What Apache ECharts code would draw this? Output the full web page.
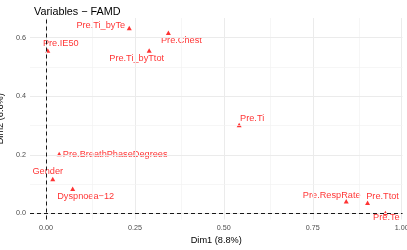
<!DOCTYPE html>
<html>
<head>
<meta charset="utf-8">
<script src="https://cdn.jsdelivr.net/npm/echarts@6/dist/echarts.min.js"></script>
<style>html,body{margin:0;padding:0;background:#fff}#c{width:407px;height:250px}</style>
</head>
<body>
<div id="c"></div>
<script>
// ---- data ----
const varNames = ["Pre.IE50","Pre.Ti_byTe","Pre.Chest","Pre.Ti_byTtot","Pre.Ti","Pre.BreathPhaseDegrees","Gender","Dyspnoea\u221212","Pre.RespRate","Pre.Ttot","Pre.Te"];
const dim1 = [0.005, 0.234, 0.344, 0.290, 0.543, 0.037, 0.019, 0.075, 0.844, 0.904, 0.954];
const dim2 = [0.556, 0.633, 0.617, 0.556, 0.302, 0.203, 0.118, 0.084, 0.042, 0.037, 0.002];
const xTicks = [0, 0.25, 0.5, 0.75, 1.0];
const xMinor = [0.125, 0.375, 0.625, 0.875];
const yTicks = [0, 0.2, 0.4, 0.6];
const yMinor = [0.1, 0.3, 0.5];
const titleText = "Variables \u2212 FAMD";
const xTitle = "Dim1 (8.8%)";
const yTitle = "Dim2 (6.6%)";

// ---- layout (label placement, pixels) ----
const labelOffsets = [[13,-7],[-28.5,-3],[13,8],[-12.5,8],[13,-7],[56,0.5],[-5,-7],[13,7.5],[-14.5,-6],[15,-6],[1,5]];

const FONT = "Liberation Sans, Arial, sans-serif";
const chart = echarts.init(document.getElementById('c'), null, {renderer:'canvas'});

const gridMajor = {color:'#EBEBEB', width:1, type:'solid'};
const gridMinorS = {color:'#F2F2F2', width:0.7, type:'solid'};

const gridLines = []
  .concat(xTicks.map(v => ({xAxis:v, lineStyle:gridMajor})))
  .concat(xMinor.map(v => ({xAxis:v, lineStyle:gridMinorS})))
  .concat(yTicks.map(v => ({yAxis:v, lineStyle:gridMajor})))
  .concat(yMinor.map(v => ({yAxis:v, lineStyle:gridMinorS})));

const points = varNames.map((n,i) => ({
  name:n, value:[dim1[i], dim2[i]],
  label:{offset:labelOffsets[i]}
}));

chart.setOption({
  animation:false,
  backgroundColor:'#fff',
  title:{text:titleText, left:29, top:2, textStyle:{fontFamily:FONT, fontSize:10.8, fontWeight:'normal', color:'#000'}},
  grid:{left:30, right:4.5, top:18, bottom:30.5, containLabel:false, outerBoundsMode:'none'},
  xAxis:{
    type:'value', min:-0.045, max:1.0022,
    name:xTitle, nameLocation:'middle', nameGap:16,
    nameTextStyle:{fontFamily:FONT, fontSize:9.2, color:'#000'},
    axisLine:{show:false},
    splitLine:{show:false},
    axisTick:{show:true, customValues:xTicks, length:2.7, inside:false, lineStyle:{color:'#333', width:0.8}},
    axisLabel:{customValues:xTicks, formatter:v=>v.toFixed(2), fontFamily:FONT, fontSize:7.2, color:'#4D4D4D', margin:5}
  },
  yAxis:{
    type:'value', min:-0.0205, max:0.667,
    name:yTitle, nameLocation:'middle', nameGap:20, nameRotate:90,
    nameTextStyle:{fontFamily:FONT, fontSize:9.2, color:'#000'},
    axisLine:{show:false},
    splitLine:{show:false},
    axisTick:{show:true, customValues:yTicks, length:2.7, lineStyle:{color:'#333', width:0.8}},
    axisLabel:{customValues:yTicks, formatter:v=>v.toFixed(1), fontFamily:FONT, fontSize:7.2, color:'#4D4D4D', margin:4}
  },
  series:[
    {type:'scatter', data:[], silent:true, z:1,
     markLine:{silent:true, symbol:['none','none'], label:{show:false}, animation:false, data:gridLines}},
    {type:'scatter', data:[], silent:true, z:2,
     markLine:{silent:true, symbol:['none','none'], label:{show:false}, animation:false,
       lineStyle:{color:'#000', width:0.9, type:[4,3]},
       data:[{xAxis:0},{yAxis:0}]}},
    {type:'scatter', z:3, symbol:'triangle', symbolSize:[5,4.5],
     itemStyle:{color:'#FF0000'},
     label:{show:true, position:'inside', formatter:'{b}', fontFamily:FONT, fontSize:9.2, color:'#FF0000'},
     data:points}
  ]
});
</script>
</body>
</html>
